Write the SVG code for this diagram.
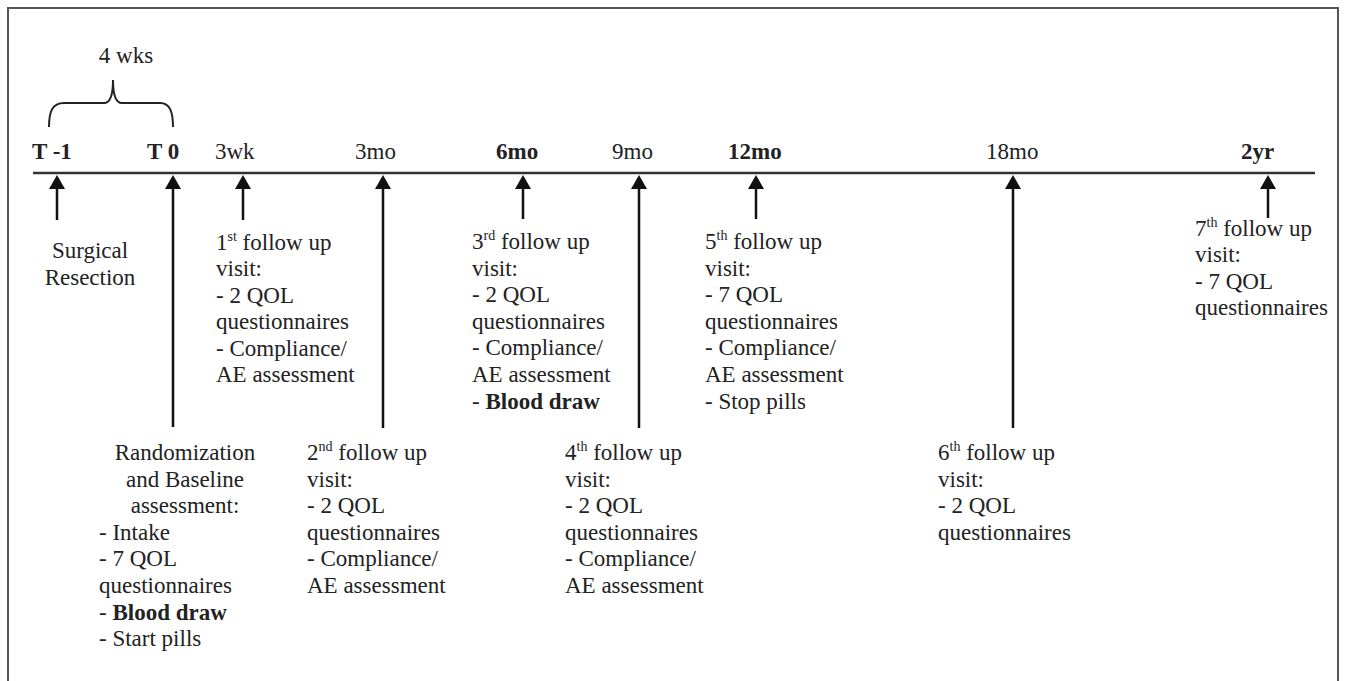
<svg xmlns="http://www.w3.org/2000/svg" width="1346" height="681" viewBox="0 0 1346 681">
<defs>
<style>
text{font-family:"Liberation Serif","Times New Roman",serif;font-size:23px;fill:#222}
.b{font-weight:bold}
.c{text-anchor:middle}
.sup{font-size:14px}
.arr{stroke:#111;stroke-width:2.5;fill:none;marker-end:url(#ah)}
</style>
<marker id="ah" markerUnits="userSpaceOnUse" markerWidth="16" markerHeight="16" viewBox="0 0 14 16" refX="5" refY="8" orient="auto">
<path d="M0,0 L14,8 L0,16 z" fill="#111"/>
</marker>
</defs>
<rect width="1346" height="681" fill="#fff"/>
<rect x="8" y="8" width="1330" height="690" fill="none" stroke="#555" stroke-width="2"/>

<g id="timeline">
<line x1="33" y1="173" x2="1315" y2="173" stroke="#333" stroke-width="2.5"/>
<path d="M49,127 C49,112 52,103 64,103 L104,103 C110,103 113,96 113,80 C113,96 116,103 122,103 L160,103 C170,103 173,112 173,127" fill="none" stroke="#222" stroke-width="2"/>
<text x="126" y="63" class="c">4 wks</text>
<text x="32" y="159" class="b">T -1</text>
<text x="147" y="159" class="b">T 0</text>
<text x="215" y="159">3wk</text>
<text x="355" y="159">3mo</text>
<text x="496" y="159" class="b">6mo</text>
<text x="612" y="159">9mo</text>
<text x="728" y="159" class="b">12mo</text>
<text x="986" y="159">18mo</text>
<text x="1241" y="159" class="b">2yr</text>
</g>

<g id="connectors">
<line class="arr" x1="57" y1="220" x2="57" y2="184"/>
<line class="arr" x1="173" y1="427" x2="173" y2="184"/>
<line class="arr" x1="243" y1="220" x2="243" y2="184"/>
<line class="arr" x1="383" y1="428" x2="383" y2="184"/>
<line class="arr" x1="523" y1="219" x2="523" y2="184"/>
<line class="arr" x1="639" y1="428" x2="639" y2="184"/>
<line class="arr" x1="756" y1="219" x2="756" y2="184"/>
<line class="arr" x1="1013" y1="428" x2="1013" y2="184"/>
<line class="arr" x1="1268" y1="218" x2="1268" y2="184"/>
</g>

<g id="surgical">
<text x="90" y="258" class="c">Surgical</text>
<text x="90" y="285" class="c">Resection</text>
</g>

<g id="baseline">
<text x="185" y="460" class="c">Randomization</text>
<text x="185" y="487" class="c">and Baseline</text>
<text x="185" y="513" class="c">assessment:</text>
<text x="99" y="540">- Intake</text>
<text x="99" y="566">- 7 QOL</text>
<text x="99" y="593">questionnaires</text>
<text x="99" y="620">- <tspan class="b">Blood draw</tspan></text>
<text x="99" y="646">- Start pills</text>
</g>

<g id="fu1">
<text x="216" y="250">1<tspan class="sup" dy="-9">st</tspan><tspan dy="9"> follow up</tspan></text>
<text x="216" y="276">visit:</text>
<text x="216" y="303">- 2 QOL</text>
<text x="216" y="329">questionnaires</text>
<text x="216" y="356">- Compliance/</text>
<text x="216" y="382">AE assessment</text>
</g>

<g id="fu2">
<text x="307" y="460">2<tspan class="sup" dy="-9">nd</tspan><tspan dy="9"> follow up</tspan></text>
<text x="307" y="487">visit:</text>
<text x="307" y="513">- 2 QOL</text>
<text x="307" y="540">questionnaires</text>
<text x="307" y="566">- Compliance/</text>
<text x="307" y="593">AE assessment</text>
</g>

<g id="fu3">
<text x="472" y="249">3<tspan class="sup" dy="-9">rd</tspan><tspan dy="9"> follow up</tspan></text>
<text x="472" y="276">visit:</text>
<text x="472" y="302">- 2 QOL</text>
<text x="472" y="329">questionnaires</text>
<text x="472" y="355">- Compliance/</text>
<text x="472" y="382">AE assessment</text>
<text x="472" y="409">- <tspan class="b">Blood draw</tspan></text>
</g>

<g id="fu4">
<text x="565" y="460">4<tspan class="sup" dy="-9">th</tspan><tspan dy="9"> follow up</tspan></text>
<text x="565" y="487">visit:</text>
<text x="565" y="513">- 2 QOL</text>
<text x="565" y="540">questionnaires</text>
<text x="565" y="566">- Compliance/</text>
<text x="565" y="593">AE assessment</text>
</g>

<g id="fu5">
<text x="705" y="249">5<tspan class="sup" dy="-9">th</tspan><tspan dy="9"> follow up</tspan></text>
<text x="705" y="276">visit:</text>
<text x="705" y="302">- 7 QOL</text>
<text x="705" y="329">questionnaires</text>
<text x="705" y="355">- Compliance/</text>
<text x="705" y="382">AE assessment</text>
<text x="705" y="409">- Stop pills</text>
</g>

<g id="fu6">
<text x="938" y="460">6<tspan class="sup" dy="-9">th</tspan><tspan dy="9"> follow up</tspan></text>
<text x="938" y="487">visit:</text>
<text x="938" y="513">- 2 QOL</text>
<text x="938" y="540">questionnaires</text>
</g>

<g id="fu7">
<text x="1195" y="236">7<tspan class="sup" dy="-9">th</tspan><tspan dy="9"> follow up</tspan></text>
<text x="1195" y="262">visit:</text>
<text x="1195" y="289">- 7 QOL</text>
<text x="1195" y="315">questionnaires</text>
</g>
</svg>
